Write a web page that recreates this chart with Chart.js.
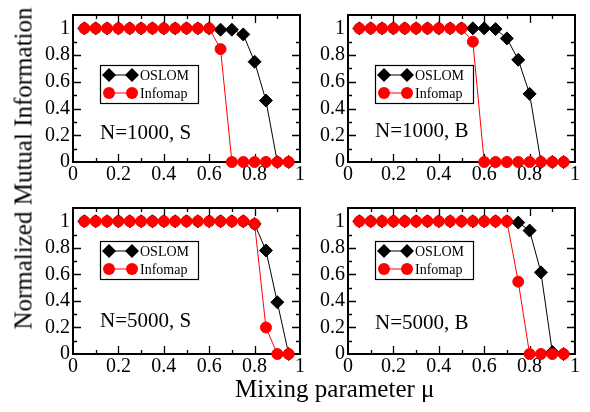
<!DOCTYPE html>
<html>
<head>
<meta charset="utf-8">
<script src="https://cdn.jsdelivr.net/npm/chart.js@4"></script>
<style>
  body { margin: 0; background: #fff; }
  #wrap { position: relative; width: 590px; height: 412px; overflow: hidden; font-family: "Liberation Serif", serif; }
  canvas { position: absolute; }
  .ttl { position: absolute; color: #000; line-height: 1; white-space: nowrap; }
</style>
</head>
<body>
<div id="wrap">
  <canvas id="c0" width="285" height="192" style="left:23px;top:0px"></canvas>
  <canvas id="c1" width="285" height="192" style="left:298px;top:0px"></canvas>
  <canvas id="c2" width="285" height="191" style="left:23px;top:193px"></canvas>
  <canvas id="c3" width="285" height="191" style="left:298px;top:193px"></canvas>
  <div class="ttl" id="ytitle" style="font-size:25px;width:340px;text-align:center;left:-147px;top:156px;transform:rotate(-90deg)">Normalized Mutual Information</div>
  <div class="ttl" style="font-size:25px;left:235px;top:376px">Mixing parameter &#956;</div>
</div>
<script>
// mixing parameter values
const mu = [0.05, 0.1, 0.15, 0.2, 0.25, 0.3, 0.35, 0.4, 0.45, 0.5,
            0.55, 0.6, 0.65, 0.7, 0.75, 0.8, 0.85, 0.9, 0.95];

// N=1000, S
const oslom1000S   = [1, 1, 1, 1, 1, 1, 1, 1, 1, 1, 1, 1, 0.99, 0.99, 0.955, 0.75, 0.46, 0, 0];
const infomap1000S = [1, 1, 1, 1, 1, 1, 1, 1, 1, 1, 1, 1, 0.845, 0, 0, 0, 0, 0, 0];
// N=1000, B
const oslom1000B   = [1, 1, 1, 1, 1, 1, 1, 1, 1, 1, 1, 1, 0.995, 0.925, 0.765, 0.51, 0, 0, 0];
const infomap1000B = [1, 1, 1, 1, 1, 1, 1, 1, 1, 1, 0.9, 0, 0, 0, 0, 0, 0, 0, 0];
// N=5000, S
const oslom5000S   = [1, 1, 1, 1, 1, 1, 1, 1, 1, 1, 1, 1, 1, 1, 1, 0.98, 0.78, 0.39, 0];
const infomap5000S = [1, 1, 1, 1, 1, 1, 1, 1, 1, 1, 1, 1, 1, 1, 1, 0.98, 0.2, 0, 0];
// N=5000, B
const oslom5000B   = [1, 1, 1, 1, 1, 1, 1, 1, 1, 1, 1, 1, 1, 1, 0.99, 0.93, 0.615, 0.015, 0];
const infomap5000B = [1, 1, 1, 1, 1, 1, 1, 1, 1, 1, 1, 1, 1, 1, 0.545, 0, 0, 0, 0];

const panelLabels = ["N=1000, S", "N=1000, B", "N=5000, S", "N=5000, B"];
const seriesNames = ["OSLOM", "Infomap"];
const xTicks = [0, 0.2, 0.4, 0.6, 0.8, 1];
const yTicks = [0, 0.2, 0.4, 0.6, 0.8, 1];
const minorTicks = [0.1, 0.3, 0.5, 0.7, 0.9];

const panels = [
  { id: "c0", oslom: oslom1000S, infomap: infomap1000S, label: panelLabels[0], legTop: 50, labBase: 124 },
  { id: "c1", oslom: oslom1000B, infomap: infomap1000B, label: panelLabels[1], legTop: 50, labBase: 122 },
  { id: "c2", oslom: oslom5000S, infomap: infomap5000S, label: panelLabels[2], legTop: 33, labBase: 119 },
  { id: "c3", oslom: oslom5000B, infomap: infomap5000B, label: panelLabels[3], legTop: 33, labBase: 121 }
];

const serif = "'Liberation Serif', 'Times New Roman', serif";

function fmt(v) { return String(+v.toFixed(1)); }

// frame + inward ticks on all four sides
const framePlugin = {
  id: "frame",
  beforeDatasetsDraw(chart) {
    const { ctx, chartArea: a, scales } = chart;
    ctx.save();
    ctx.strokeStyle = "#000";
    ctx.lineWidth = 1.3;
    ctx.beginPath();
    const tick = (vals, len) => {
      vals.forEach(v => {
        const x = Math.round(scales.x.getPixelForValue(v)) + 0.5;
        ctx.moveTo(x, a.bottom); ctx.lineTo(x, a.bottom - len);
        ctx.moveTo(x, a.top); ctx.lineTo(x, a.top + len);
        const y = Math.round(scales.y.getPixelForValue(v)) + 0.5;
        ctx.moveTo(a.left, y); ctx.lineTo(a.left + len, y);
        ctx.moveTo(a.right, y); ctx.lineTo(a.right - len, y);
      });
    };
    tick(xTicks.slice(1, -1), 8);
    tick(minorTicks, 4);
    ctx.stroke();
    ctx.lineWidth = 2;
    ctx.strokeRect(a.left, a.top, a.right - a.left, a.bottom - a.top);
    ctx.restore();
  }
};

// legend box and panel label
const legendPlugin = {
  id: "boxLegend",
  afterDatasetsDraw(chart, args, opts) {
    const { ctx, chartArea: a } = chart;
    const bx = a.left + 27, by = a.top + opts.legTop, bw = 98, bh = 38;
    ctx.save();
    ctx.fillStyle = "#fff";
    ctx.fillRect(bx, by, bw, bh);
    ctx.strokeStyle = "#000";
    ctx.lineWidth = 1.2;
    ctx.strokeRect(bx + 0.5, by + 0.5, bw, bh);
    const ds = [chart.data.datasets[1], chart.data.datasets[0]];
    ds.forEach((d, i) => {
      const y = by + 10 + i * 18;
      const x1 = bx + 9, x2 = bx + 32;
      ctx.strokeStyle = d.borderColor;
      ctx.fillStyle = d.backgroundColor;
      ctx.lineWidth = 1;
      ctx.beginPath(); ctx.moveTo(x1, y); ctx.lineTo(x2, y); ctx.stroke();
      [x1, x2].forEach(x => {
        ctx.beginPath();
        if (d.pointStyle === "rectRot") {
          const r = d.pointRadius + 0.5;
          ctx.moveTo(x, y - r); ctx.lineTo(x + r, y); ctx.lineTo(x, y + r); ctx.lineTo(x - r, y);
          ctx.closePath();
        } else {
          ctx.arc(x, y, d.pointRadius + 0.5, 0, Math.PI * 2);
        }
        ctx.fill();
      });
      ctx.fillStyle = "#000";
      ctx.font = "14px " + serif;
      ctx.textBaseline = "middle";
      ctx.fillText(d.label, bx + 40, y + 1);
    });
    ctx.font = "21px " + serif;
    ctx.textBaseline = "alphabetic";
    ctx.fillStyle = "#000";
    ctx.fillText(opts.label, a.left + 27, a.top + opts.labBase);
    ctx.restore();
  }
};

panels.forEach(p => {
  new Chart(document.getElementById(p.id), {
    type: "line",
    data: {
      datasets: [
        {
          label: seriesNames[1],
          data: mu.map((x, i) => ({ x: x, y: p.infomap[i] })),
          borderColor: "#ff0000", backgroundColor: "#ff0000", borderWidth: 1,
          pointStyle: "circle", pointRadius: 5.5, pointBorderWidth: 1,
          order: 0, clip: false
        },
        {
          label: seriesNames[0],
          data: mu.map((x, i) => ({ x: x, y: p.oslom[i] })),
          borderColor: "#000", backgroundColor: "#000", borderWidth: 1,
          pointStyle: "rectRot", pointRadius: 6.5, pointBorderWidth: 1,
          order: 1, clip: false
        }
      ]
    },
    options: {
      responsive: false,
      animation: false,
      events: [],
      layout: { padding: { top: 2, right: 8, left: 0, bottom: 0 } },
      plugins: {
        legend: { display: false },
        tooltip: { enabled: false },
        boxLegend: { legTop: p.legTop, label: p.label, labBase: p.labBase }
      },
      scales: {
        x: {
          type: "linear", min: 0, max: 1,
          grid: { display: false, drawTicks: false },
          border: { display: false },
          afterBuildTicks: s => { s.ticks = xTicks.map(v => ({ value: v })); },
          afterFit: s => { s.height = 30; },
          ticks: { color: "#000", padding: 1, maxRotation: 0, font: { family: serif, size: 20 }, callback: v => fmt(v) }
        },
        y: {
          type: "linear", min: 0, max: 1.1,
          grid: { display: false, drawTicks: false },
          border: { display: false },
          afterBuildTicks: s => { s.ticks = yTicks.map(v => ({ value: v })); },
          afterFit: s => { s.width = 50; },
          ticks: { color: "#000", padding: 3, font: { family: serif, size: 20 }, callback: v => fmt(v) }
        }
      }
    },
    plugins: [framePlugin, legendPlugin]
  });
});
</script>
</body>
</html>
